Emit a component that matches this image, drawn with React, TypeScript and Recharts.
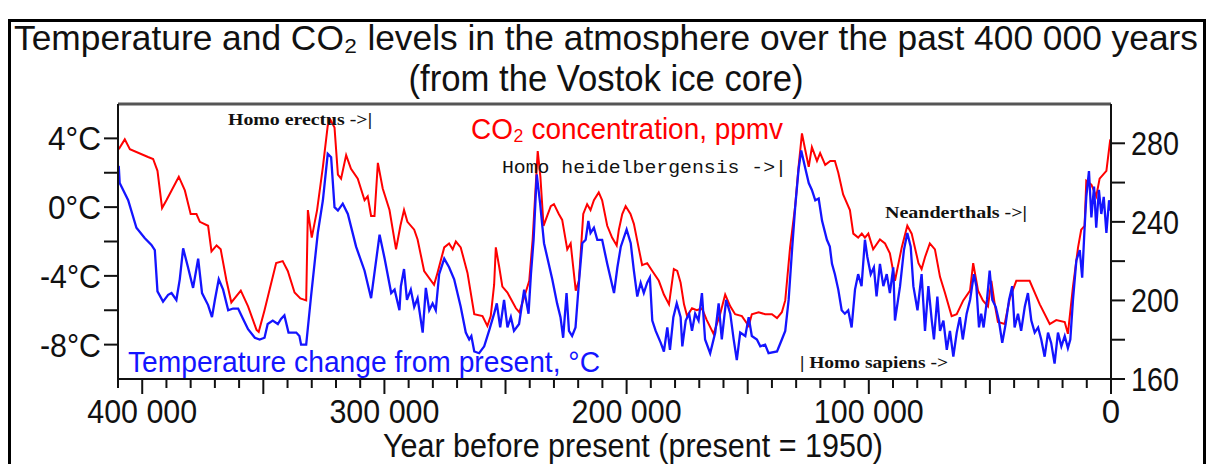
import React from "react";
import { LineChart, Line, XAxis, YAxis, ReferenceLine } from "recharts";

// Vostok ice core values (years before present)
const co2Years = [
  409700, 407200, 405100, 397600, 395500, 393700, 391800, 390000, 384900, 382400,
  380000, 377600, 376200, 372800, 371400, 369300, 367600, 365200, 363200, 359300,
  356300, 352800, 351900, 349500, 344700, 342000, 339900, 337100, 334700, 332300,
  331600, 330000, 327800, 325400, 323400, 322300, 320600, 319200, 317900, 315800,
  313800, 311000, 308200, 306900, 305500, 304100, 302700, 300700, 297900, 295200,
  293400, 291900, 290500, 287700, 286300, 283600, 279500, 278100, 275300, 273300,
  271800, 270500, 268500, 265700, 262900, 259500, 257500, 256100, 254700, 254000,
  252600, 251300, 249200, 245700, 244300, 242200, 240200, 238800, 237400, 236700,
  235600, 234300, 232800, 231300, 230000, 228000, 226600, 224500, 223100, 221000,
  219700, 217900, 216300, 214900, 213500, 211500, 210100, 208000, 206000, 204100,
  203200, 201800, 200400, 198400, 197000, 194900, 193600, 191500, 189400, 186700,
  184600, 182500, 180500, 179100, 177700, 176300, 175000, 173000, 171000, 168900,
  166900, 164100, 161400, 159300, 157200, 155200, 152400, 149600, 148300, 145500,
  142800, 140000, 137900, 135900, 134500, 132500, 130400, 129000, 127600, 126300,
  124800, 123500, 121400, 120100, 118000, 115900, 114000, 112600, 110600, 107800,
  106400, 104400, 102900, 101600, 100200, 98200, 95400, 93300, 91300, 89200,
  86400, 84100, 82300, 79500, 78200, 76800, 74800, 72700, 70600, 68600,
  65800, 63700, 61000, 58200, 56900, 54900, 52900, 50800, 49400, 48000,
  46700, 43900, 41800, 39100, 33600, 29400, 25300, 22600, 19100, 17800,
  15700, 13600, 12300, 10900, 10200, 8100, 6100, 4700, 1900, 300,
];
const co2Values = [
  277, 282, 277, 273, 272, 266, 247, 251, 263, 256,
  244, 244, 240, 238, 225, 228, 226, 210, 199, 205,
  197, 185, 184, 195, 219, 220, 215, 204, 201, 200,
  246, 232, 246, 268, 289, 292, 288, 264, 262, 274,
  267, 262, 251, 253, 243, 243, 270, 257, 246, 226,
  238, 246, 240, 236, 231, 215, 208, 214, 227, 229,
  226, 230, 227, 214, 193, 192, 187, 192, 208, 227,
  217, 207, 204, 196, 194, 202, 210, 231, 261, 276,
  263, 238, 243, 248, 249, 244, 241, 226, 229, 205,
  210, 244, 249, 246, 251, 255, 251, 238, 232, 228,
  236, 244, 248, 244, 239, 226, 218, 219, 215, 210,
  203, 198, 216, 215, 209, 198, 192, 196, 195, 196,
  190, 183, 193, 203, 197, 193, 192, 187, 193, 194,
  193, 193, 191, 194, 200, 227, 248, 268, 285, 277,
  268, 278, 271, 275, 269, 271, 271, 265, 254, 246,
  234, 232, 234, 232, 234, 226, 231, 229, 224, 210,
  227, 238, 234, 219, 216, 222, 229, 226, 212, 204,
  192, 193, 200, 205, 219, 205, 200, 197, 210, 198,
  189, 188, 201, 210, 210, 198, 188, 190, 189, 183,
  207, 227, 236, 238, 261, 259, 253, 262, 266, 282,
];

const tempYears = [
  409700, 409300, 405800, 402400, 399000, 396200, 394800, 393700, 391400, 389300,
  387900, 385900, 384500, 383100, 381100, 379000, 376900, 375300, 372800, 371200,
  370000, 368400, 366600, 364500, 362500, 360400, 358400, 356300, 353500, 351500,
  349500, 348200, 346100, 344000, 342700, 341300, 339600, 337800, 336400, 335100,
  334400, 332300, 330300, 327500, 325400, 323400, 322000, 320600, 319200, 317200,
  315100, 311700, 308200, 305500, 302000, 299900, 297200, 295800, 293800, 293200,
  291900, 290700, 289100, 287700, 286300, 284200, 282900, 281500, 280100, 278800,
  277400, 275300, 273300, 271200, 268500, 266400, 265000, 264100, 262900, 260900,
  258800, 256800, 254700, 253600, 252200, 250600, 249200, 247800, 246500, 244400,
  242300, 240500, 239500, 238400, 237100, 235700, 234100, 232800, 230700, 228700,
  227300, 226200, 224800, 223800, 222500, 221100, 219700, 218300, 216900, 215800,
  214900, 213500, 212100, 210100, 208000, 205200, 203800, 202400, 200000, 198300,
  197000, 195600, 194200, 192900, 191500, 190400, 189400, 188000, 185900, 184600,
  183200, 182100, 180700, 179300, 177700, 177000, 175600, 174200, 173000, 171700,
  170300, 168900, 167600, 165500, 163400, 162000, 160700, 158900, 157200, 155800,
  154500, 153100, 151000, 149600, 148300, 146200, 144800, 142800, 141400, 137900,
  135900, 134500, 133100, 131700, 130400, 129000, 127900, 126300, 124800, 123500,
  122100, 120700, 119300, 117300, 116100, 115200, 114000, 112600, 111200, 109900,
  108500, 107100, 105700, 104400, 103000, 101600, 100600, 99200, 97900, 96800,
  95400, 94000, 92600, 91300, 89900, 89200, 87100, 85500, 84100, 82700,
  81600, 79900, 78200, 76800, 75400, 74000, 73100, 71700, 70600, 69200,
  67800, 66500, 65100, 63700, 62400, 61200, 59600, 58200, 56600, 55600,
  54500, 53600, 52600, 51200, 50100, 49000, 47600, 46300, 44900, 43500,
  42100, 40800, 39800, 38400, 37100, 35600, 34300, 32900, 31500, 30100,
  28800, 27400, 26000, 24700, 23300, 21900, 20500, 19100, 17800, 16800,
  15700, 14300, 12900, 11900, 10900, 10200, 9100, 8100, 7000, 6100,
  5000, 4000, 3000, 1900, 800, 300,
];
const tempValues = [
  2.4, 1.4, 0.4, -1.2, -1.8, -2.2, -2.5, -4.9, -5.5, -5.1,
  -5.0, -5.4, -4.2, -2.4, -3.5, -4.7, -3.0, -5.0, -5.7, -6.4,
  -5.4, -4.2, -4.8, -6.0, -5.9, -5.9, -6.5, -7.1, -7.6, -7.7,
  -7.6, -6.8, -6.6, -6.8, -6.5, -6.3, -7.3, -7.3, -7.3, -7.5,
  -8.0, -8.0, -5.2, -1.5, 0.4, 3.1, 2.9, 0.0, -0.2, 0.2,
  -0.4, -2.3, -3.7, -5.3, -1.6, -3.0, -5.0, -4.8, -6.0, -4.6,
  -3.6, -5.4, -4.8, -5.8, -5.3, -7.3, -4.7, -6.0, -5.6, -6.0,
  -3.9, -3.0, -3.5, -4.2, -5.8, -7.3, -7.7, -7.5, -8.4, -8.5,
  -8.1, -7.2, -6.2, -5.6, -7.0, -5.4, -7.0, -6.4, -7.2, -6.8,
  -4.8, -6.2, -3.9, -1.9, 1.9, 0.2, -2.1, -2.9, -4.2, -5.6,
  -6.4, -7.6, -5.0, -7.2, -7.5, -7.0, -4.4, -2.1, -1.9, -0.8,
  -1.5, -1.2, -1.9, -1.9, -3.3, -5.0, -3.5, -2.3, -1.3, -2.1,
  -3.7, -5.2, -4.4, -5.0, -4.4, -4.1, -6.6, -7.2, -7.9, -8.4,
  -7.0, -8.3, -6.4, -5.6, -6.4, -8.1, -6.6, -6.2, -7.2, -6.2,
  -6.6, -5.0, -7.7, -8.5, -7.3, -5.6, -7.7, -5.4, -6.2, -7.7,
  -8.9, -7.3, -7.5, -6.4, -7.5, -7.7, -8.1, -8.0, -8.5, -8.4,
  -7.7, -7.2, -5.4, -2.5, 0.0, 2.2, 3.3, 2.3, 1.4, 1.0,
  0.4, 0.5, -0.8, -1.9, -2.3, -3.3, -3.9, -4.8, -6.0, -6.2,
  -6.0, -7.0, -4.8, -3.9, -4.6, -1.9, -2.9, -3.9, -3.5, -5.2,
  -3.3, -4.6, -3.9, -5.0, -3.5, -6.6, -4.6, -2.5, -1.5, -2.3,
  -4.6, -6.0, -3.9, -7.2, -4.6, -6.6, -7.7, -5.2, -7.2, -6.6,
  -8.3, -7.2, -8.7, -7.3, -6.4, -7.7, -6.2, -5.4, -3.9, -4.6,
  -7.0, -6.2, -7.0, -5.4, -3.7, -5.4, -5.8, -6.6, -7.9, -6.8,
  -5.4, -4.6, -7.0, -6.2, -7.2, -5.8, -5.0, -6.6, -7.3, -7.0,
  -7.7, -8.7, -7.3, -7.9, -9.1, -7.3, -8.1, -7.5, -8.2, -7.7,
  -5.4, -3.1, -2.5, -4.1, -1.2, 0.6, 2.1, -0.6, 1.2, -1.2,
  1.0, -0.4, 0.6, -1.5, 0.4, -0.2,
];

const xTicks = Array.from({ length: 42 }, (_, i) => 410000 - i * 10000);
const tempTicks = [-8, -6, -4, -2, 0, 2, 4];
const co2Ticks = [160, 180, 200, 220, 240, 260, 280];

const co2Data = co2Years.map((year, i) => ({ year, co2: co2Values[i] }));
const tempData = tempYears.map((year, i) => ({ year, t: tempValues[i] }));

const SANS = "'Liberation Sans', Arial, Helvetica, sans-serif";
const SERIF = "'Liberation Serif', 'Times New Roman', serif";
const MONO = "'Liberation Mono', 'Courier New', monospace";

const RED = "#ff0000";
const BLUE = "#1414ff";
const INK = "#111";

// narrow-looking axis text: bigger glyphs squeezed to the reference widths
const LABEL_SIZE = 33;

function fmtYear(v: number) {
  if (v === 0) return "0";
  return `${Math.floor(v / 1000)} 000`;
}

function XTick(props: any) {
  const { x, y, payload } = props;
  const v = payload.value;
  const len = v % 50000 === 0 ? 15 : 9;
  return (
    <g>
      <line x1={x} x2={x} y1={y} y2={y + len} stroke={INK} strokeWidth={2} />
      {v % 100000 === 0 && (
        <text
          x={x}
          y={y + 44}
          textAnchor="middle"
          fontSize={LABEL_SIZE}
          fontFamily={SANS}
          fill={INK}
          textLength={v === 0 ? undefined : 110}
          lengthAdjust="spacingAndGlyphs"
        >
          {fmtYear(v)}
        </text>
      )}
    </g>
  );
}

function TempTick(props: any) {
  const { x, y, payload } = props;
  if (payload.value % 4 !== 0) return <g />;
  const label = `${payload.value}°C`;
  return (
    <text
      x={x}
      y={y}
      dy={12}
      textAnchor="end"
      fontSize={LABEL_SIZE}
      fontFamily={SANS}
      fill={INK}
      textLength={label.length === 3 ? 53 : 61}
      lengthAdjust="spacingAndGlyphs"
    >
      {label}
    </text>
  );
}

function Co2Tick(props: any) {
  const { x, y, payload } = props;
  if (payload.value % 40 !== 0) return <g />;
  return (
    <text
      x={x}
      y={y}
      dy={12}
      textAnchor="start"
      fontSize={LABEL_SIZE}
      fontFamily={SANS}
      fill={INK}
      textLength={48}
      lengthAdjust="spacingAndGlyphs"
    >
      {payload.value}
    </text>
  );
}

export default function App() {
  return (
    <div style={{ position: "absolute", left: 0, top: 0, width: 1212, height: 464, background: "#fff", overflow: "hidden" }}>
      <LineChart width={1212} height={464} margin={{ top: 104, right: 11, bottom: 0, left: 18 }}>
        <XAxis
          dataKey="year"
          type="number"
          domain={[0, 410000]}
          reversed
          ticks={xTicks}
          interval={0}
          allowDataOverflow
          height={85}
          tickLine={false}
          tickSize={0}
          tickMargin={0}
          axisLine={{ stroke: INK, strokeWidth: 2 }}
          tick={<XTick />}
        />
        <YAxis
          yAxisId="t"
          type="number"
          domain={[-10, 6]}
          ticks={tempTicks}
          interval={0}
          allowDataOverflow
          width={100}
          tickSize={14}
          tickMargin={3}
          tickLine={{ stroke: INK, strokeWidth: 2 }}
          axisLine={{ stroke: INK, strokeWidth: 2 }}
          tick={<TempTick />}
        />
        <YAxis
          yAxisId="c"
          orientation="right"
          type="number"
          domain={[160, 300]}
          ticks={co2Ticks}
          interval={0}
          allowDataOverflow
          width={90}
          tickSize={14}
          tickMargin={6}
          tickLine={{ stroke: INK, strokeWidth: 2 }}
          axisLine={{ stroke: INK, strokeWidth: 2 }}
          tick={<Co2Tick />}
        />
        <ReferenceLine yAxisId="t" y={6} stroke="#555" strokeWidth={3} />
        <Line
          yAxisId="c"
          data={co2Data}
          dataKey="co2"
          type="linear"
          stroke={RED}
          strokeWidth={2}
          dot={false}
          isAnimationActive={false}
        />
        <Line
          yAxisId="t"
          data={tempData}
          dataKey="t"
          type="linear"
          stroke={BLUE}
          strokeWidth={2.3}
          dot={false}
          isAnimationActive={false}
        />
      </LineChart>

      <svg width={1212} height={464} style={{ position: "absolute", left: 0, top: 0, pointerEvents: "none" }}>
        <text x={606} y={50} textAnchor="middle" fontSize={35} fontFamily={SANS} fill={INK} textLength={1184} lengthAdjust="spacingAndGlyphs">
          Temperature and CO₂ levels in the atmosphere over the past 400 000 years
        </text>
        <text x={606} y={91} textAnchor="middle" fontSize={36} fontFamily={SANS} fill={INK} textLength={395} lengthAdjust="spacingAndGlyphs">
          (from the Vostok ice core)
        </text>
        <text x={471} y={139} fontSize={30} fontFamily={SANS} fill={RED} textLength={312} lengthAdjust="spacingAndGlyphs">
          CO₂ concentration, ppmv
        </text>
        <text x={128} y={372} fontSize={30} fontFamily={SANS} fill={BLUE} textLength={472} lengthAdjust="spacingAndGlyphs">
          Temperature change from present, °C
        </text>
        <text x={228} y={125} fontSize={16} fontWeight="bold" fontFamily={SERIF} fill={INK} textLength={144} lengthAdjust="spacingAndGlyphs">
          Homo erectus -&gt;|
        </text>
        <text x={502} y={173} fontSize={18} fontFamily={MONO} fill={INK} textLength={285} lengthAdjust="spacingAndGlyphs">
          Homo heidelbergensis -&gt;|
        </text>
        <text x={885} y={218} fontSize={16} fontWeight="bold" fontFamily={SERIF} fill={INK} textLength={142} lengthAdjust="spacingAndGlyphs">
          Neanderthals -&gt;|
        </text>
        <text x={800} y={368} fontSize={16} fontWeight="bold" fontFamily={SERIF} fill={INK} textLength={148} lengthAdjust="spacingAndGlyphs">
          | Homo sapiens -&gt;
        </text>
        <text x={633} y={457} textAnchor="middle" fontSize={33} fontFamily={SANS} fill={INK} textLength={500} lengthAdjust="spacingAndGlyphs">
          Year before present (present = 1950)
        </text>
      </svg>

      <div
        style={{
          position: "absolute",
          left: 8,
          top: 19,
          width: 1192,
          height: 460,
          borderLeft: "3px solid #000",
          borderTop: "3px solid #000",
          borderRight: "3px solid #000",
          pointerEvents: "none",
        }}
      />
    </div>
  );
}
